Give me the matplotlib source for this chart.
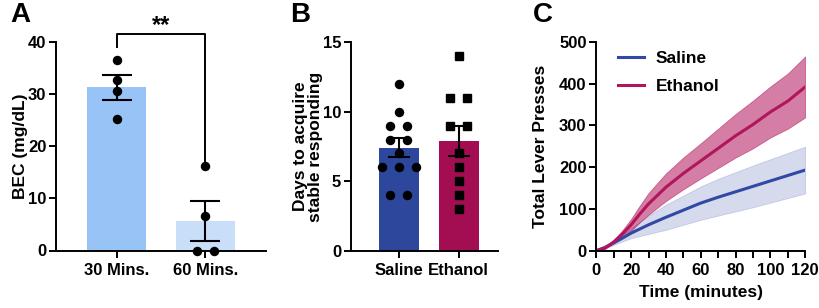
import numpy as np
import matplotlib
matplotlib.use('Agg')
import matplotlib.pyplot as plt
from matplotlib.ticker import MultipleLocator

plt.rcParams['font.family'] = ['Liberation Sans', 'DejaVu Sans']
plt.rcParams['font.weight'] = 'bold'
plt.rcParams['axes.labelweight'] = 'bold'

# panel A: blood ethanol concentration
bec_labels = ['30 Mins.', '60 Mins.']
bec_30 = [36.6, 32.8, 30.6, 25.3]
bec_60 = [16.2, 6.7, 0.0, 0.0]

# panel B: days to acquire stable responding
group_labels = ['Saline', 'Ethanol']
days_saline = [12, 10, 9, 9, 8, 8, 7, 6, 6, 6, 4, 4]
days_ethanol = [14, 11, 11, 9, 9, 7, 6, 5, 4, 3]

# panel C: cumulative lever presses
time_min = [0, 5, 10, 15, 20, 25, 30, 40, 50, 60, 70, 80, 90, 100, 110, 120]
saline_mean = [0, 8, 19, 30, 42, 52, 62, 80, 97, 114, 128, 141, 154, 167, 180, 193]
saline_sem = [0, 2, 5, 8, 12, 17, 22, 30, 35, 40, 44, 47, 50, 52, 54, 56]
ethanol_mean = [0, 6, 21, 40, 62, 88, 112, 152, 185, 215, 245, 275, 302, 332, 358, 392]
ethanol_sem = [0, 1, 4, 9, 14, 20, 26, 33, 38, 42, 47, 52, 57, 61, 66, 73]

c_blue_a1 = '#98c3f6'
c_blue_a2 = '#c8def9'
c_sal = '#2d479d'
c_eth = '#a30d52'
c_sal_line = '#3148a5'
c_eth_line = '#b1155b'

W, H = 820, 308
fig = plt.figure(figsize=(W / 100, H / 100), dpi=100)


def px_axes(x0, x1, ytop, ybot):
    return fig.add_axes([x0 / W, 1 - ybot / H, (x1 - x0) / W, (ybot - ytop) / H])


def style(ax):
    for s in ['top', 'right']:
        ax.spines[s].set_visible(False)
    for s in ['left', 'bottom']:
        ax.spines[s].set_linewidth(1.4)
    ax.tick_params(width=1.4, length=5, labelsize=12, pad=4)
    ax.tick_params(axis='y', pad=2)
    for lab in ax.get_xticklabels() + ax.get_yticklabels():
        lab.set_fontweight('bold')


def offsets(vals, step):
    vals = np.asarray(vals, dtype=float)
    out = np.zeros(len(vals))
    for v in np.unique(vals):
        idx = np.where(vals == v)[0]
        n = len(idx)
        out[idx] = (np.arange(n) - (n - 1) / 2) * step
    return out


def bar_panel(ax, groups, colors, markers, step, cap):
    for i, (g, c, m) in enumerate(zip(groups, colors, markers)):
        g = np.asarray(g, dtype=float)
        mean = g.mean()
        sem = g.std(ddof=1) / np.sqrt(len(g))
        ax.bar(i, mean, width=0.67, color=c, zorder=1)
        ax.plot(i + offsets(g, step), g, ls='none', marker=m, color='black',
                ms=5.8, zorder=3, clip_on=False)
        ax.errorbar(i, mean, yerr=sem, color='black', capsize=cap, capthick=1.5,
                    elinewidth=1.5, zorder=4)


# ---- A
axA = px_axes(56, 266, 42, 250.5)
bar_panel(axA, [bec_30, bec_60], [c_blue_a1, c_blue_a2], ['o', 'o'], 0.18, 11)
axA.set_xlim(-0.68, 1.68)
axA.set_ylim(0, 40)
axA.set_yticks([0, 10, 20, 30, 40])
axA.set_xticks([0, 1])
axA.set_xticklabels(bec_labels)
axA.set_ylabel('BEC (mg/dL)', fontsize=12.5, labelpad=0)
style(axA)
axA.plot([0, 0, 1, 1], [39.0, 41.5, 41.5, 16.9], color='black', lw=1.4, clip_on=False)
axA.text(0.5, 40.9, '**', ha='center', va='bottom', fontsize=17, fontweight='bold')
fig.text(10 / W, 1 - 15 / H, 'A', fontsize=20, fontweight='bold', va='center')

# ---- B
axB = px_axes(351, 498, 42.3, 250.7)
bar_panel(axB, [days_saline, days_ethanol], [c_sal, c_eth], ['o', 's'], 0.28, 8)
axB.set_xlim(-0.8, 1.66)
axB.set_ylim(0, 15)
axB.set_yticks([0, 5, 10, 15])
axB.set_xticks([0, 1])
axB.set_xticklabels(group_labels)
axB.set_ylabel('Days to acquire\nstable responding', fontsize=12.5, labelpad=0,
               linespacing=1.0)
style(axB)
fig.text(290 / W, 1 - 15 / H, 'B', fontsize=20, fontweight='bold', va='center')

# ---- C
axC = px_axes(596.3, 805.3, 41.7, 250.7)
t = np.array(time_min)
for mean, sem, lc, alpha, lab in [(saline_mean, saline_sem, c_sal_line, 0.2, 'Saline'),
                                  (ethanol_mean, ethanol_sem, c_eth_line, 0.55, 'Ethanol')]:
    mean = np.array(mean, dtype=float)
    sem = np.array(sem, dtype=float)
    axC.fill_between(t, mean - sem, mean + sem, color=lc, alpha=alpha, lw=0.6)
    axC.plot(t, mean, color=lc, lw=2.2, label=lab)
axC.set_xlim(0, 120)
axC.set_ylim(0, 500)
axC.set_xticks([0, 20, 40, 60, 80, 100, 120])
axC.xaxis.set_minor_locator(MultipleLocator(10))
axC.set_yticks([0, 100, 200, 300, 400, 500])
axC.set_xlabel('Time (minutes)', fontsize=12.5, labelpad=5)
axC.set_ylabel('Total Lever Presses', fontsize=12.5, labelpad=8)
style(axC)
axC.tick_params(which='minor', width=1.4, length=5)
leg = axC.legend(loc='upper left', bbox_to_anchor=(0.03, 1.03), frameon=False,
                 prop={'size': 12.5, 'weight': 'bold'}, handlelength=1.5,
                 handletextpad=0.65, labelspacing=0.75)
fig.text(533 / W, 1 - 15 / H, 'C', fontsize=20, fontweight='bold', va='center')

fig.savefig('out.png', dpi=100)
